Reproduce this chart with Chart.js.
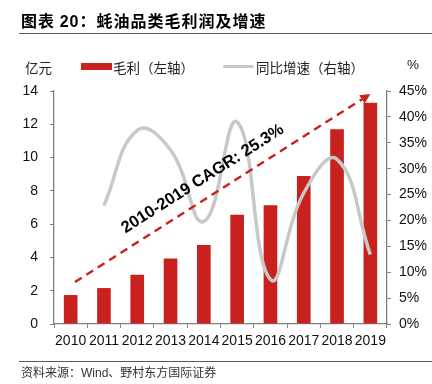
<!DOCTYPE html>
<html>
<head>
<meta charset="utf-8">
<script src="https://cdn.jsdelivr.net/npm/chart.js@4/dist/chart.umd.min.js"></script>
<style>
  html, body { margin: 0; padding: 0; background: #fff; }
  #wrap { position: relative; width: 432px; height: 384px; overflow: hidden; }
  #wrap canvas { position: absolute; left: 0; top: 0; }
  .txt { position: absolute; white-space: nowrap; font-family: "Noto Sans CJK SC", sans-serif; color: #222; }
  #title { left: 21px; top: 8px; font-size: 16px; font-weight: bold; color: #000; letter-spacing: 1px; }
  #title .num { font-family: "Liberation Sans", Arial, sans-serif; }
  .rule { position: absolute; left: 19px; right: 0; height: 0; border-top: 1.5px solid #595959; }
  #unitL { left: 25px; top: 57px; font-size: 13.5px; }
  #unitR { left: 407px; top: 57px; font-size: 13.5px; font-family: "Liberation Sans", Arial, sans-serif; }
  #legBar { position: absolute; left: 81px; top: 63px; width: 31px; height: 7px; background: #C9221E; }
  #legBarTxt { left: 113px; top: 57px; font-size: 13.5px; }
  #legLine { position: absolute; left: 223px; top: 65px; width: 31px; height: 3px; background: #C8C8C8; border-radius: 1.5px; }
  #legLineTxt { left: 256px; top: 57px; font-size: 13.5px; }
  #source { left: 21px; top: 363px; font-size: 12px; color: #333; }
  #source .lat { font-family: "Liberation Sans", Arial, sans-serif; }
</style>
</head>
<body>
<div id="wrap">
  <canvas id="chart" width="432" height="384"></canvas>
  <div class="txt" id="title">图表 <span class="num">20</span>：蚝油品类毛利润及增速</div>
  <div class="rule" style="top:33px"></div>
  <div class="txt" id="unitL">亿元</div>
  <div id="legBar"></div>
  <div class="txt" id="legBarTxt">毛利（左轴）</div>
  <div id="legLine"></div>
  <div class="txt" id="legLineTxt">同比增速（右轴）</div>
  <div class="txt" id="unitR">%</div>
  <div class="rule" style="top:361px"></div>
  <div class="txt" id="source">资料来源：<span class="lat">Wind</span>、野村东方国际证券</div>
</div>
<script>
const years = ['2010', '2011', '2012', '2013', '2014', '2015', '2016', '2017', '2018', '2019'];
const grossProfit = [1.74, 2.16, 2.96, 3.94, 4.74, 6.56, 7.14, 8.9, 11.7, 13.3];   // 亿元
const yoyGrowth = [null, 22.9, 37.4, 33.6, 19.8, 39.0, 8.6, 25.3, 31.8, 13.4];     // %
const leftTicks = [0, 2, 4, 6, 8, 10, 12, 14];
const rightTicks = [0, 5, 10, 15, 20, 25, 30, 35, 40, 45];

// CAGR arrow annotation, in [category index, 亿元] data units
const cagrLabel = '2010-2019 CAGR: 25.3%';
const arrowFrom = [0.13, 2.52];
const arrowTo = [9.0, 13.82];
const labelAt = [3.97, 8.72];

const RED = '#C9221E';
const GREY = '#C8C8C8';
const AXIS = '#7f7f7f';
const latin = '"Liberation Sans", Arial, sans-serif';

const cagrArrow = {
  id: 'cagrArrow',
  afterDatasetsDraw(chart) {
    const { ctx, scales: { x, y } } = chart;
    const x0 = x.getPixelForValue(arrowFrom[0]), y0 = y.getPixelForValue(arrowFrom[1]);
    const x1 = x.getPixelForValue(arrowTo[0]), y1 = y.getPixelForValue(arrowTo[1]);
    const ang = Math.atan2(y1 - y0, x1 - x0);
    const head = 10;
    ctx.save();
    ctx.strokeStyle = RED;
    ctx.fillStyle = RED;
    ctx.lineWidth = 2.5;
    ctx.setLineDash([8, 5.5]);
    ctx.beginPath();
    ctx.moveTo(x0, y0);
    ctx.lineTo(x1 - Math.cos(ang) * head, y1 - Math.sin(ang) * head);
    ctx.stroke();
    ctx.setLineDash([]);
    ctx.beginPath();
    ctx.moveTo(x1, y1);
    ctx.lineTo(x1 - Math.cos(ang) * head + Math.sin(ang) * 5, y1 - Math.sin(ang) * head - Math.cos(ang) * 5);
    ctx.lineTo(x1 - Math.cos(ang) * head - Math.sin(ang) * 5, y1 - Math.sin(ang) * head + Math.cos(ang) * 5);
    ctx.closePath();
    ctx.fill();
    // label parallel to the arrow
    ctx.translate(x.getPixelForValue(labelAt[0]), y.getPixelForValue(labelAt[1]));
    ctx.rotate(ang);
    ctx.fillStyle = '#000';
    ctx.font = 'bold 16.5px ' + latin;
    ctx.textAlign = 'center';
    ctx.textBaseline = 'middle';
    ctx.fillText(cagrLabel, 0, 0);
    ctx.restore();
  }
};

const tickFont = { family: latin, size: 14 };

new Chart(document.getElementById('chart'), {
  data: {
    labels: years,
    datasets: [
      { type: 'line', label: '同比增速（右轴）', data: yoyGrowth, yAxisID: 'y1', borderColor: GREY,
        borderWidth: 3.5, pointRadius: 0, tension: 0.45, spanGaps: false, order: 0 },
      { type: 'bar', label: '毛利（左轴）', data: grossProfit, yAxisID: 'y', backgroundColor: RED,
        categoryPercentage: 1, barPercentage: 0.41, order: 1 },
    ],
  },
  options: {
    responsive: false,
    animation: false,
    layout: { padding: { top: 91, bottom: 0, left: 0, right: 0 } },
    plugins: { legend: { display: false }, tooltip: { enabled: false } },
    scales: {
      x: {
        grid: { offset: true, drawOnChartArea: false, tickLength: 4, color: AXIS },
        border: { color: AXIS, width: 1.3 },
        ticks: { font: tickFont, color: '#111', autoSkip: false, maxRotation: 0, padding: 5 },
        afterFit: s => { s.height = 60; },
      },
      y: {
        position: 'left', min: 0, max: 14,
        afterBuildTicks: s => { s.ticks = leftTicks.map(v => ({ value: v })); },
        grid: { drawOnChartArea: false, tickLength: 4, color: AXIS },
        border: { color: AXIS, width: 1.3 },
        ticks: { font: tickFont, color: '#111', padding: 12 },
        afterFit: s => { s.width = 54; },
      },
      y1: {
        position: 'right', min: 0, max: 45,
        afterBuildTicks: s => { s.ticks = rightTicks.map(v => ({ value: v })); },
        grid: { drawOnChartArea: false, tickLength: 4, color: AXIS },
        border: { color: AXIS, width: 1.3 },
        ticks: { font: tickFont, color: '#111', padding: 8, callback: v => v + '%' },
        afterFit: s => { s.width = 45; },
      },
    },
  },
  plugins: [cagrArrow],
});
</script>
</body>
</html>
